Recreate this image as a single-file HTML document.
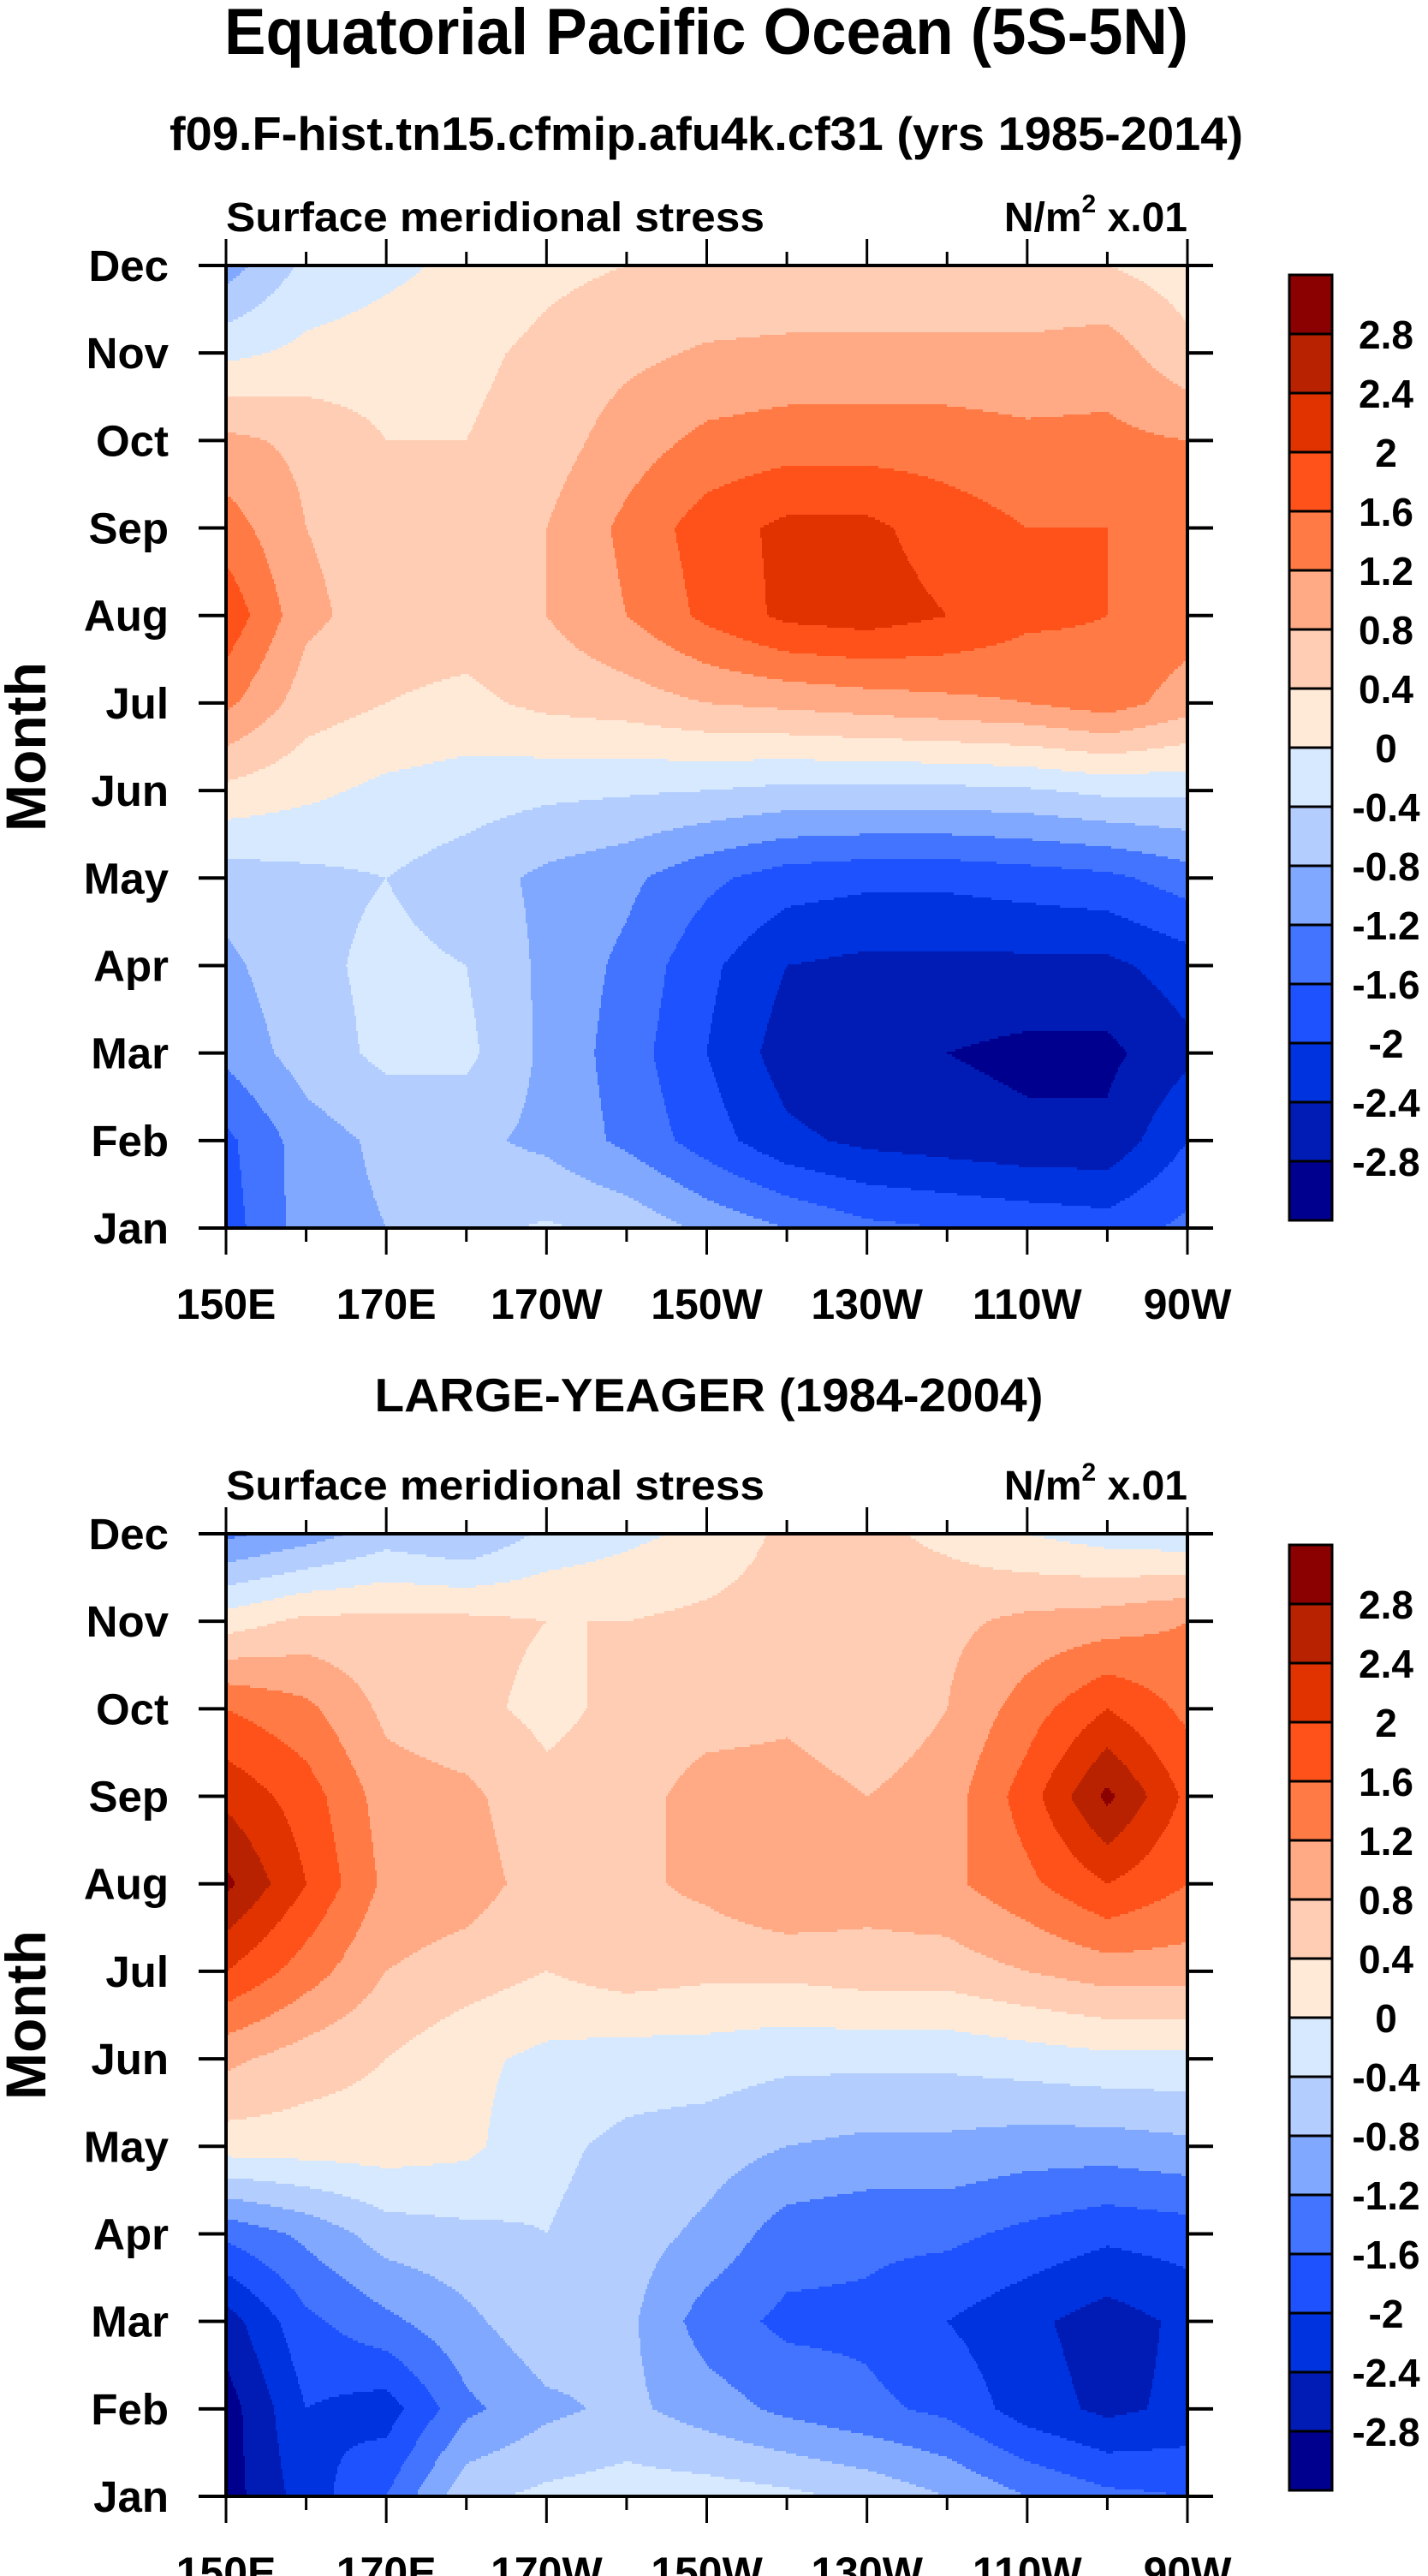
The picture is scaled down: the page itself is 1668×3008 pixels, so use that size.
<!DOCTYPE html>
<html><head><meta charset="utf-8">
<style>
html,body{margin:0;padding:0;background:#fff;}
svg{display:block;font-family:"Liberation Sans",Arial,sans-serif;font-weight:bold;}
</style></head>
<body>
<svg id="fig" width="1668" height="3008" viewBox="0 0 1668 3008" xmlns="http://www.w3.org/2000/svg">
<text x="825" y="63" font-size="76" text-anchor="middle" textLength="1126" lengthAdjust="spacingAndGlyphs">Equatorial Pacific Ocean (5S-5N)</text>
<text x="825" y="175" font-size="55" text-anchor="middle" textLength="1254" lengthAdjust="spacingAndGlyphs">f09.F-hist.tn15.cfmip.afu4k.cf31 (yrs 1985-2014)</text>
<text x="828" y="1648" font-size="55" text-anchor="middle" textLength="781" lengthAdjust="spacingAndGlyphs">LARGE-YEAGER (1984-2004)</text>
<g id="panels"></g>
</svg>
<script>
const lons = [150,160,170,180,190,200,210,220,230,240,250,260,270];
const monthLabels = ["Jan","Feb","Mar","Apr","May","Jun","Jul","Aug","Sep","Oct","Nov","Dec"];
const lonTickValues = [150,170,190,210,230,250,270];
const lonTickLabels = ["150E","170E","170W","150W","130W","110W","90W"];
const levels = [-2.8,-2.4,-2,-1.6,-1.2,-0.8,-0.4,0,0.4,0.8,1.2,1.6,2,2.4,2.8];
const levelLabels = ["-2.8","-2.4","-2","-1.6","-1.2","-0.8","-0.4","0","0.4","0.8","1.2","1.6","2","2.4","2.8"];
const colors = ["#00008f","#001cb4","#0033e0","#1f52ff","#4274ff","#80a8ff","#b3cdff","#d6e9ff","#ffead8","#ffcdb4","#ffaa84","#ff7a45","#ff521b","#e03300","#b82200","#8b0000"];
// rows: Jan..Dec ; columns: lons
const modelVals = [
[-1.8,-1.0,-0.8,-0.5,-0.35,-0.5,-0.9,-1.2,-1.5,-1.6,-1.7,-1.8,-1.5],
[-1.7,-1.0,-0.7,-0.7,-0.9,-1.3,-1.8,-2.3,-2.5,-2.6,-2.7,-2.7,-2.0],
[-1.1,-0.6,-0.3,-0.3,-0.9,-1.4,-2.0,-2.6,-2.8,-2.8,-2.9,-2.9,-2.5],
[-0.9,-0.5,-0.3,-0.4,-0.9,-1.3,-1.9,-2.4,-2.5,-2.5,-2.5,-2.5,-2.2],
[-0.6,-0.5,-0.4,-0.6,-0.9,-1.1,-1.5,-1.8,-1.9,-1.9,-1.8,-1.7,-1.4],
[0.3,0.1,-0.1,-0.2,-0.3,-0.35,-0.4,-0.5,-0.5,-0.5,-0.45,-0.3,-0.3],
[1.3,0.6,0.4,0.3,0.5,0.6,0.8,0.9,1.0,1.1,1.2,1.4,1.0],
[1.9,0.9,0.6,0.6,0.8,1.2,1.7,2.1,2.2,2.0,1.7,1.6,1.4],
[1.4,0.8,0.6,0.6,0.8,1.3,1.8,2.1,2.1,1.8,1.6,1.6,1.6],
[0.9,0.7,0.4,0.4,0.6,1.0,1.3,1.4,1.4,1.4,1.3,1.3,1.2],
[-0.1,0.1,0.2,0.3,0.5,0.7,0.85,0.9,0.9,0.9,0.9,1.0,0.5],
[-1.0,-0.3,-0.1,0.1,0.3,0.4,0.45,0.45,0.45,0.45,0.45,0.4,0.2]
];
const obsVals = [
[-3.0,-2.2,-1.6,-0.5,-0.3,-0.2,-0.2,-0.3,-0.5,-0.8,-1.2,-1.5,-1.6],
[-3.0,-2.0,-2.2,-1.3,-0.9,-0.7,-1.0,-1.3,-1.5,-1.7,-2.2,-2.5,-2.3],
[-2.6,-1.7,-1.3,-0.9,-0.5,-0.7,-1.4,-1.7,-1.7,-2.0,-2.3,-2.6,-2.3],
[-1.5,-1.1,-0.6,-0.5,-0.4,-0.6,-0.9,-1.4,-1.5,-1.5,-1.7,-1.9,-1.8],
[0.2,0.2,0.2,0.1,-0.3,-0.5,-0.6,-0.8,-0.9,-0.9,-1.0,-1.0,-0.9],
[0.9,0.6,0.4,0.1,-0.1,-0.2,-0.2,-0.3,-0.3,-0.3,-0.2,-0.1,-0.1],
[2.0,1.4,0.8,0.6,0.4,0.6,0.5,0.5,0.6,0.6,0.8,1.0,1.0],
[2.9,2.0,1.1,1.0,0.6,0.7,0.9,1.2,1.0,1.1,1.5,2.0,1.6],
[2.3,1.8,1.0,0.9,0.5,0.6,1.0,1.0,0.8,1.0,1.8,2.9,1.9],
[1.6,1.3,0.7,0.5,0.3,0.5,0.6,0.7,0.5,0.8,1.4,2.0,1.5],
[0.2,0.5,0.5,0.5,0.4,0.4,0.5,0.6,0.6,0.7,0.9,1.0,1.2],
[-1.3,-1.0,-0.6,-0.8,-0.3,-0.1,0.1,0.5,0.5,0.3,0.0,-0.2,-0.3]
];

const NS = "http://www.w3.org/2000/svg";
const X0 = 264, X1 = 1387, PH = 1124;
function mk(tag, attrs, parent){
  const e = document.createElementNS(NS, tag);
  for (const k in attrs) e.setAttribute(k, attrs[k]);
  parent.appendChild(e);
  return e;
}
function xScale(lon){ return X0 + (lon - lons[0]) / (lons[lons.length-1] - lons[0]) * (X1 - X0); }
function colorIndex(v){ let i = 0; while (i < levels.length && v >= levels[i]) i++; return i; }
function interp(vals, m, lonv){
  const nl = lons.length;
  let fx = (lonv - lons[0]) / (lons[1] - lons[0]);
  fx = Math.max(0, Math.min(nl - 1.0001, fx));
  let fy = Math.max(0, Math.min(11 - 0.0001, m));
  const i = Math.floor(fx), j = Math.floor(fy);
  const tx = fx - i, ty = fy - j;
  const a = vals[j][i], b = vals[j][i+1], c = vals[j+1][i], d = vals[j+1][i+1];
  return (a*(1-tx) + b*tx)*(1-ty) + (c*(1-tx) + d*tx)*ty;
}

function drawPanel(vals, top, cbTop, key){
  const root = document.getElementById('panels');
  const g = mk('g', {}, root);
  
  
  const yScale = m => top + (11 - m) * PH / 11;
  const field = mk('g', {}, g);
  
  
  const stepY = 3, stepX = 2;
  function flush(x0, x1, py, idx){
    const r = mk('rect', {x: x0, y: py, width: x1 - x0 + 0.6, height: stepY + 0.6, fill: colors[idx]}, field);
    
    
  }
  for (let py = top; py < top + PH; py += stepY) {
    const m = 11 - (py + stepY/2 - top) / PH * 11;
    let runStart = X0, runIdx = -1;
    for (let px = X0; px < X1; px += stepX) {
      const lonv = lons[0] + (Math.min(px + stepX/2, X1) - X0) / (X1 - X0) * (lons[lons.length-1] - lons[0]);
      const idx = colorIndex(interp(vals, m, lonv));
      if (idx !== runIdx) {
        if (runIdx >= 0) flush(runStart, px, py, runIdx);
        runStart = px; runIdx = idx;
      }
    }
    if (runIdx >= 0) flush(runStart, X1, py, runIdx);
  }
  const fr = mk('rect', {x: X0, y: top, width: X1 - X0, height: PH, fill: 'none', stroke: '#000', 'stroke-width': 4}, g);
  
  
  for (let mi = 0; mi < 12; mi++) {
    const y = yScale(mi);
    const t1 = mk('line', {x1: X0 - 32, x2: X0, y1: y, y2: y, stroke: '#000', 'stroke-width': 4}, g);
    
    
    const t2 = mk('line', {x1: X1, x2: X1 + 30, y1: y, y2: y, stroke: '#000', 'stroke-width': 4}, g);
    
    
    const tl = mk('text', {x: 197, y: y + 18, 'font-size': 51, 'text-anchor': 'end'}, g);
    tl.textContent = monthLabels[mi];
    
    
  }
  for (let lon = lons[0]; lon <= lons[lons.length-1]; lon += 10) {
    const x = xScale(lon);
    const major = lonTickValues.indexOf(lon) >= 0;
    const len = major ? 31 : 16;
    const a = mk('line', {x1: x, x2: x, y1: top - len, y2: top, stroke: '#000', 'stroke-width': 3}, g);
    
    
    const b = mk('line', {x1: x, x2: x, y1: top + PH, y2: top + PH + len, stroke: '#000', 'stroke-width': 3}, g);
    
    
  }
  lonTickValues.forEach((lon, i) => {
    const t = mk('text', {x: xScale(lon), y: top + PH + 106, 'font-size': 50, 'text-anchor': 'middle'}, g);
    t.textContent = lonTickLabels[i];
    
    
  });
  const yt = mk('text', {x: 53, y: top + PH/2, 'font-size': 66, 'text-anchor': 'middle', transform: 'rotate(-90 53 ' + (top + PH/2) + ')'}, g);
  yt.textContent = 'Month';
  
  
  const lt = mk('text', {x: X0, y: top - 40, 'font-size': 48, textLength: 629, lengthAdjust: 'spacingAndGlyphs'}, g);
  lt.textContent = 'Surface meridional stress';
  
  
  const ut = mk('text', {x: X1, y: top - 40, 'font-size': 48, 'text-anchor': 'end'}, g);
  
  
  const s1 = mk('tspan', {}, ut); s1.textContent = 'N/m';
  const s2 = mk('tspan', {'font-size': 30, dy: -22}, ut); s2.textContent = '2';
  const s3 = mk('tspan', {dy: 22}, ut); s3.textContent = ' x.01';
  const cb = mk('g', {}, g);
  
  
  const bh = 69, cbx = 1506, cbw = 50;
  for (let k = 0; k < colors.length; k++) {
    const y = cbTop + (colors.length - 1 - k) * bh;
    const r = mk('rect', {x: cbx, y: y, width: cbw, height: bh, fill: colors[k], stroke: '#000', 'stroke-width': 3}, cb);
    
    
  }
  levels.forEach((lv, k) => {
    const y = cbTop + (colors.length - 1 - k) * bh;
    const t = mk('text', {x: 1619, y: y + 17, 'font-size': 46, 'text-anchor': 'middle'}, cb);
    t.textContent = levelLabels[k];
    
    
  });
}
drawPanel(modelVals, 310, 321, 'model');
drawPanel(obsVals, 1791, 1804, 'obs');
</script>
</body></html>
